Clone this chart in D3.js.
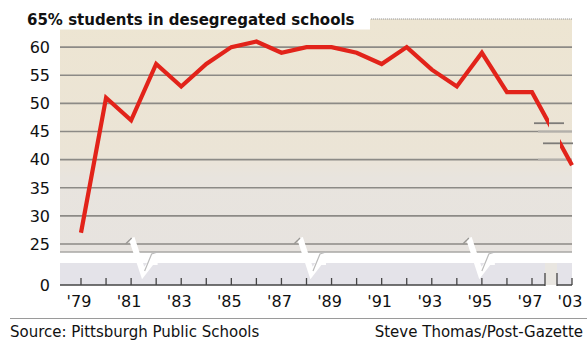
<!DOCTYPE html>
<html><head><meta charset="utf-8">
<script src="https://cdn.jsdelivr.net/npm/d3@7"></script>
<style>
body{margin:0;background:#fff}
svg{display:block}
text{font-family:"DejaVu Sans",sans-serif;fill:#111}
</style>
</head><body>
<svg id="c" width="587" height="341"></svg>
<script>
// ---- data ----
const years  = [1979,1980,1981,1982,1983,1984,1985,1986,1987,1988,1989,1990,1991,1992,1993,1994,1995,1996,1997,2003];
const values = [27,51,47,57,53,57,60,61,59,60,60,59,57,60,56,53,59,52,52,39];
const yTicks = [0,25,30,35,40,45,50,55,60];
const xTickYears = [1979,1980,1981,1982,1983,1984,1985,1986,1987,1988,1989,1990,1991,1992,1993,1994,1995,1996,1997,2003];
const xLabelYears = [1979,1981,1983,1985,1987,1989,1991,1993,1995,1997,2003];
const titleText = "65% students in desegregated schools";
const sourceText = "Source: Pittsburgh Public Schools";
const creditText = "Steve Thomas/Post-Gazette";
const scaleBreakYears = [1981.02, 1987.74, 1994.48]; // zigzag cuts in the y-axis
const axisBreak = [1998.95, 2000.75];                // gap in the x-axis
const lineGap = [1999.55, 2001.2];                   // gap in the line
const fadedGrid = [40, 45];                          // gridlines faded inside the gap column

// ---- layout ----
const svg = d3.select("#c");
const left = 60, right = 572;
const x = d3.scaleLinear().domain([1979,1997,2003]).range([81,532,572]);
const y = d3.scaleLinear().domain([0,25,65]).range([285,244,19]);
const axisY = y(0);
const plotTop = y(65), plotBottom = y(25) + 8;
const bandTop = plotBottom + 11;

const defs = svg.append("defs");
const g = defs.append("linearGradient").attr("id","bg").attr("x1",0).attr("x2",0).attr("y1",0).attr("y2",1);
g.append("stop").attr("offset","0%").attr("stop-color","#ede5d2");
g.append("stop").attr("offset","58%").attr("stop-color","#ebe4d6");
g.append("stop").attr("offset","68%").attr("stop-color","#e8e4de");
g.append("stop").attr("offset","100%").attr("stop-color","#e7e3df");

svg.append("rect").attr("x",left).attr("y",plotTop).attr("width",right-left).attr("height",plotBottom-plotTop).attr("fill","url(#bg)");
// lavender band above the axis, grey where the axis is broken
svg.append("rect").attr("x",left).attr("y",bandTop).attr("width",right-left).attr("height",axisY-bandTop).attr("fill","#e4e3e9");
svg.append("rect").attr("x",x(axisBreak[0])).attr("y",bandTop).attr("width",x(axisBreak[1])-x(axisBreak[0])).attr("height",axisY-bandTop).attr("fill","#e9e6e1");

// title white box + dotted top line
svg.append("rect").attr("x",0).attr("y",0).attr("width",370).attr("height",29.5).attr("fill","#fff");
svg.append("line").attr("x1",371).attr("x2",right).attr("y1",plotTop).attr("y2",plotTop)
  .attr("stroke","#999").attr("stroke-width",1.2).attr("stroke-dasharray","1.2,0.8");

// gridlines
svg.selectAll(".grid").data(yTicks.filter(d=>d>0)).join("line")
  .attr("x1",left).attr("x2",right).attr("y1",d=>y(d)).attr("y2",d=>y(d))
  .attr("stroke","#8c8a86").attr("stroke-width",1.7);
svg.selectAll(".fgrid").data(fadedGrid).join("line")
  .attr("x1",x(axisBreak[0])-7).attr("x2",right).attr("y1",d=>y(d)).attr("y2",d=>y(d))
  .attr("stroke","#b3b0ab").attr("stroke-width",1.8);
// bottom edge of the plot area
svg.append("line").attr("x1",left).attr("x2",right).attr("y1",plotBottom).attr("y2",plotBottom)
  .attr("stroke","#a9a7a4").attr("stroke-width",1.4);

// zigzag scale breaks
scaleBreakYears.forEach(b=>{
  const bx = x(b);
  svg.append("path").attr("d",`M${bx},${y(25)-6}L${bx+11.5},${axisY-12}L${bx+20},${bandTop-1}L${bx+26},${bandTop-1}`)
    .attr("fill","none").attr("stroke","#fff").attr("stroke-width",6).attr("stroke-linejoin","miter");
  svg.append("path").attr("d",`M${bx-6},${y(25)}L${bx},${y(25)-6}`)
    .attr("fill","none").attr("stroke","#9a9894").attr("stroke-width",1.4);
  svg.append("path").attr("d",`M${bx+13},${axisY-14}L${bx+20},${plotBottom+2}L${bx+26},${plotBottom}`)
    .attr("fill","none").attr("stroke","#bbb").attr("stroke-width",1.2);
});

// y labels
svg.selectAll(".yl").data(yTicks).join("text")
  .attr("x",50).attr("y",d=>y(d)).attr("dy","0.36em").attr("text-anchor","end")
  .attr("font-size",16).text(d=>d);

// x axis
const axisCol = "#444";
svg.append("line").attr("x1",left).attr("x2",x(axisBreak[0])).attr("y1",axisY).attr("y2",axisY).attr("stroke",axisCol).attr("stroke-width",1.5);
svg.append("line").attr("x1",x(axisBreak[1])).attr("x2",right).attr("y1",axisY).attr("y2",axisY).attr("stroke",axisCol).attr("stroke-width",1.5);
svg.selectAll(".tk").data(xTickYears).join("line")
  .attr("x1",d=>x(d)).attr("x2",d=>x(d)).attr("y1",axisY-7).attr("y2",axisY)
  .attr("stroke",axisCol).attr("stroke-width",1.3);
svg.selectAll(".tkb").data(axisBreak).join("line")
  .attr("x1",d=>x(d)).attr("x2",d=>x(d)).attr("y1",axisY-12).attr("y2",axisY+1)
  .attr("stroke",axisCol).attr("stroke-width",1.3);
svg.selectAll(".xl").data(xLabelYears).join("text")
  .attr("x",d=>x(d)-2).attr("y",307).attr("text-anchor","middle")
  .attr("font-size",16).text(d=>"'"+String(d).slice(2));

// line with gap
const clip = defs.append("clipPath").attr("id","gapclip");
clip.append("rect").attr("x",0).attr("y",0).attr("width",x(lineGap[0])).attr("height",341);
clip.append("rect").attr("x",x(lineGap[1])).attr("y",0).attr("width",587-x(lineGap[1])).attr("height",341);

// break markers at the gap edges
const i97 = years.indexOf(1997), i03 = years.indexOf(2003);
const interp = t => d3.interpolateNumber(values[i97], values[i03])((t-years[i97])/(years[i03]-years[i97]));
[[lineGap[0], -15, 15],[lineGap[1], -17, 13]].forEach(([t,a,bb])=>{
  svg.append("line").attr("x1",x(t)+a).attr("x2",x(t)+bb).attr("y1",y(interp(t))).attr("y2",y(interp(t)))
    .attr("stroke","#7d7b78").attr("stroke-width",1.8);
});

const line = d3.line().x((d,i)=>x(years[i])).y(d=>y(d));
svg.append("path").datum(values).attr("d",line).attr("clip-path","url(#gapclip)")
  .attr("fill","none").attr("stroke","#e2231a").attr("stroke-width",4.2).attr("stroke-linejoin","miter");

// title
svg.append("text").attr("x",27).attr("y",25).attr("font-size",15).attr("font-weight","bold").text(titleText);

// footer
svg.append("line").attr("x1",10).attr("x2",587).attr("y1",318.5).attr("y2",318.5).attr("stroke","#9a9a9a").attr("stroke-width",1.2);
svg.append("text").attr("x",10).attr("y",337).attr("font-size",15).text(sourceText);
svg.append("text").attr("x",583).attr("y",337).attr("text-anchor","end").attr("font-size",15).text(creditText);
</script>
</body></html>
